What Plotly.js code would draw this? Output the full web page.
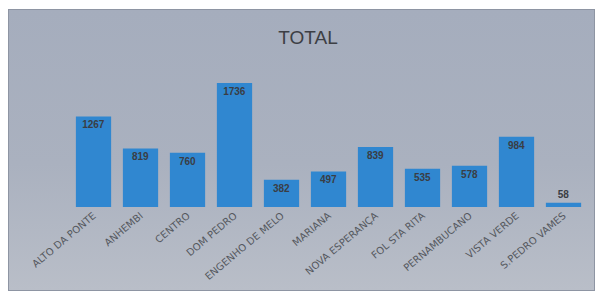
<!DOCTYPE html>
<html>
<head>
<meta charset="utf-8">
<script src="https://cdn.plot.ly/plotly-3.0.1.min.js"></script>
<style>
html,body{margin:0;padding:0;background:#ffffff;}
#wrap{position:absolute;left:8px;top:9px;width:585px;height:280px;
 background:linear-gradient(180deg,#a5adbd 0%,#aab1bf 55%,#b9bec8 100%);
 border:1px solid #8e95a3;}
#chart{position:absolute;left:0;top:0;width:598px;height:295px;}
</style>
</head>
<body>
<div id="wrap"></div>
<div id="chart"></div>
<script>
const categories = ["ALTO DA PONTE","ANHEMBI","CENTRO","DOM PEDRO","ENGENHO DE MELO","MARIANA","NOVA ESPERANÇA","FOL STA RITA","PERNAMBUCANO","VISTA VERDE","S.PEDRO VAMES"];
const totals = [1267, 819, 760, 1736, 382, 497, 839, 535, 578, 984, 58];
const labelText = totals.map(String);

const trace = {
  type: 'bar',
  x: categories,
  y: totals,
  text: labelText,
  textposition: 'auto',
  insidetextanchor: 'end',
  constraintext: 'none',
  textangle: 0,
  textfont: {family: 'Arial, Liberation Sans, sans-serif', size: 10, color: '#3a3d44', weight: 'bold'},
  marker: {color: '#3087d0', line: {width: 0}},
  hoverinfo: 'none'
};

const layout = {
  width: 598, height: 295,
  margin: {l: 70, r: 11, t: 64, b: 88},
  paper_bgcolor: 'rgba(0,0,0,0)',
  plot_bgcolor: 'rgba(0,0,0,0)',
  title: {text: 'TOTAL', x: 0.515, xanchor: 'center', y: 0.875, yanchor: 'middle',
          font: {family: 'Arial, Liberation Sans, sans-serif', size: 19, color: '#3d3f44'}},
  bargap: 0.25,
  showlegend: false,
  xaxis: {tickangle: -40, tickfont: {family: 'DejaVu Sans, sans-serif', size: 10, color: '#55585e'},
          showgrid: false, zeroline: false, showline: false, ticks: ''},
  yaxis: {range: [0, 2000], visible: false, showgrid: false, zeroline: false}
};

Plotly.newPlot('chart', [trace], layout, {displayModeBar: false, staticPlot: true});
</script>
</body>
</html>
